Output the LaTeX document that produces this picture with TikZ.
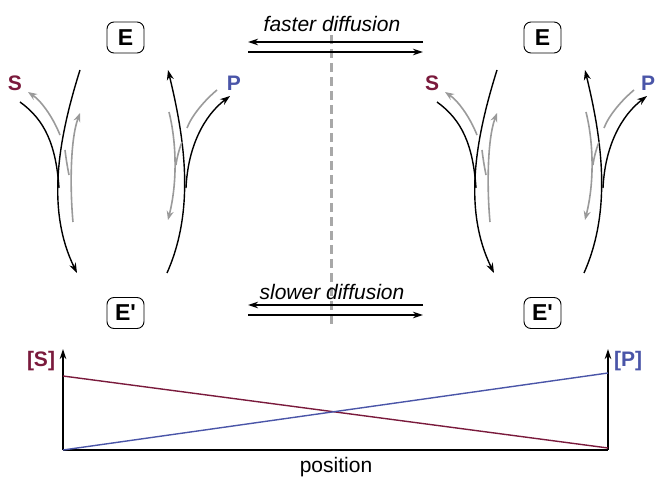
\documentclass[tikz,border=0pt]{standalone}
\usepackage{fontspec}
\setmainfont{Liberation Sans}
\newfontfamily\plainsans{Liberation Sans}
\usetikzlibrary{arrows.meta}
\definecolor{sred}{HTML}{7A1A3C}
\definecolor{pblue}{HTML}{4A55A8}
\definecolor{gline}{HTML}{9A9A9A}
\definecolor{gdash}{HTML}{A8A8A8}
\tikzset{
  ebox/.style={draw,line width=0.9pt,rounded corners=7pt,minimum width=37pt,minimum height=31pt,inner sep=0pt,font=\plainsans\fontsize{23}{25}\selectfont\bfseries},
  lbl/.style={font=\fontsize{21}{23}\selectfont\bfseries,inner sep=0pt},
  blk/.style={line width=1.4pt,black},
  blkarr/.style={blk,-{Stealth[length=10pt,width=7pt]}},
  gry/.style={line width=1.6pt,gline},
  gryarr/.style={gry,-{Stealth[length=9pt,width=7pt]}},
  diff/.style={line width=1.3pt,-{Stealth[length=10pt,width=6.5pt]}},
  difftxt/.style={font=\fontsize{21}{23}\selectfont\itshape,inner sep=0pt},
  axis/.style={line width=1.3pt,-{Stealth[length=10pt,width=6.5pt]}},
}
\begin{document}
\begin{tikzpicture}[x=1pt,y=-1pt]
\useasboundingbox (0,0) rectangle (656,481);
% ---------- cycles ----------
\foreach \dx/\n/\px in {0/1/234,417/2/231}{
\begin{scope}[xshift=\dx pt]
  \node[ebox] (E\n) at (125.5,37.5) {E};
  \node[ebox] (Ep\n) at (125.5,313) {E'};
  \node[lbl,text=sred] (S\n) at (15,83) {S};
  \node[lbl,text=pblue] (P\n) at (\px,83) {P};
  % left branch
  \draw[blkarr] (80,70) .. controls (58,140) and (46,210) .. (77,273);
  \draw[blk] (20,102) .. controls (45,120) and (56,145) .. (59,188);
  \draw[gryarr] (60,135) .. controls (52,115) and (40,100) .. (28,92);
  \draw[gryarr] (73,222) .. controls (70,190) and (70,140) .. (80,113);
  \draw[gry] (69,175) .. controls (67,165) and (66,158) .. (65,150);
  % right branch
  \draw[blkarr] (167,273) .. controls (195,210) and (185,140) .. (168,70);
  \draw[blkarr] (186,188) .. controls (188,145) and (205,115) .. (230,96);
  \draw[gry] (217,90) .. controls (205,100) and (192,115) .. (187,128);
  \draw[gryarr] (169,112) .. controls (176,140) and (178,180) .. (168,220);
  \draw[gry] (182,142) .. controls (179,150) and (177,157) .. (176,165);
\end{scope}}
% ---------- diffusion ----------
\draw[gdash,line width=3pt,dash pattern=on 9pt off 5pt] (331,35) -- (331,326);
\node[difftxt] (fast) at (332,24) {faster diffusion};
\coordinate (fa1) at (423,42); \coordinate (fa2) at (248,42);
\coordinate (fb1) at (248,52); \coordinate (fb2) at (423,52);
\draw[diff] (fa1) -- (fa2);
\draw[diff] (fb1) -- (fb2);
\node[difftxt] (slow) at (332,292) {slower diffusion};
\coordinate (sa1) at (423,305); \coordinate (sa2) at (248,305);
\coordinate (sb1) at (248,315); \coordinate (sb2) at (423,315);
\draw[diff] (sa1) -- (sa2);
\draw[diff] (sb1) -- (sb2);
% ---------- graph ----------
\coordinate (o1) at (63,450); \coordinate (o2) at (608,450);
\coordinate (t1) at (63,349); \coordinate (t2) at (608,349);
\draw[axis] (o1) -- (t1);
\draw[axis] (o2) -- (t2);
\draw[line width=1.3pt] (o1) -- (o2);
\coordinate (s0) at (63,376); \coordinate (s1) at (608,448);
\coordinate (p0) at (63,450); \coordinate (p1) at (608,373);
\draw[sred,line width=1.4pt] (s0) -- (s1);
\draw[pblue,line width=1.4pt] (p0) -- (p1);
\node[lbl,text=sred] (Sc) at (41,361) {[S]};
\node[lbl,text=pblue] (Pc) at (628,361) {[P]};
\node[font=\fontsize{21}{23}\selectfont,inner sep=0pt] (pos) at (336,467) {position};
\end{tikzpicture}
\end{document}
